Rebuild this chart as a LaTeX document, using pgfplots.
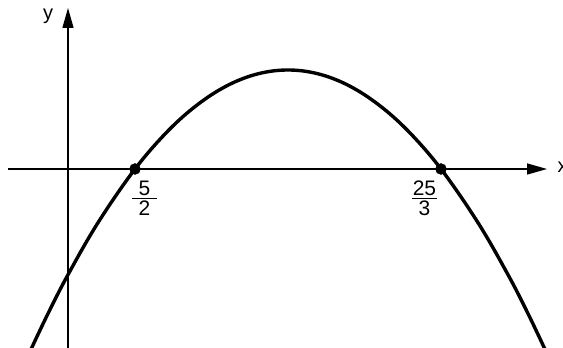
\documentclass[border=0pt]{standalone}
\usepackage{amsmath}
\usepackage{fontspec}
\setmainfont{Liberation Sans}
\usepackage{pgfplots}
\pgfplotsset{compat=1.18}
\usetikzlibrary{arrows.meta}

\newcommand{\sfrac}[2]{$\genfrac{}{}{1.4pt}{}{\makebox[25pt]{#1}}{\makebox[25pt]{#2}}$}

\begin{document}
\begin{tikzpicture}
\begin{axis}[
    x=1pt, y=1pt,
    xmin=-60, xmax=479,
    ymin=-179, ymax=161,
    axis lines=middle,
    axis line style={line width=1.5pt, -{Triangle[length=20pt,width=11pt]}},
    xtick=\empty, ytick=\empty,
    clip=false,
]
% parabola (pixel-like units, y-axis at x=0)
\addplot[line width=3.4pt, smooth, tension=0.6] coordinates {
  (-38,-182.5) (-20,-144.6) (0,-105.7) (30,-53.7) (67,0) (100,38.1)
  (130,64.7) (160,83.8) (190,95.2) (220,99) (250,95.2) (280,83.8)
  (310,64.7) (340,38.1) (373,0) (410,-53.7) (440,-105.7) (460,-144.6)
  (478,-182.5)
};
% roots
\addplot[only marks, mark=*, mark size=5.5pt] coordinates {(67,0) (373,0)};

\node[font=\fontsize{21}{25}\selectfont] at (axis cs:76.5,-29) {\sfrac{5}{2}};
\node[font=\fontsize{21}{25}\selectfont] at (axis cs:356.5,-29) {\sfrac{25}{3}};
\node[font=\fontsize{20}{24}\selectfont, anchor=west] at (axis cs:486,2) {x};
\node[font=\fontsize{20}{24}\selectfont] at (axis cs:-20,153) {y};

\coordinate (bl) at (axis cs:-68,-179);
\coordinate (tr) at (axis cs:495,169);
\end{axis}
\pgfresetboundingbox
\path (bl) rectangle (tr);
\end{tikzpicture}
\end{document}
